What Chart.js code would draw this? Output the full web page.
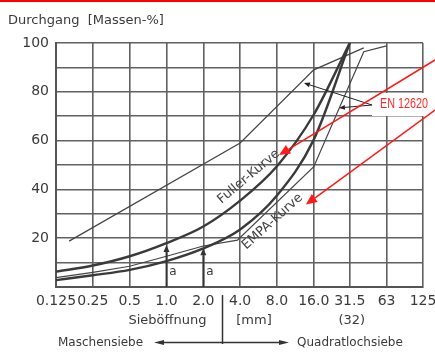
<!DOCTYPE html>
<html><head><meta charset="utf-8">
<script src="https://cdn.jsdelivr.net/npm/chart.js@4.4.1/dist/chart.umd.min.js"></script>
<style>html,body{margin:0;padding:0;background:#fff}#wrap{width:435px;height:352px}</style>
</head><body><div id="wrap"><canvas id="c" width="435" height="352"></canvas></div>
<script>
// ---- data ----
const sieveSizes  = [0.125, 0.25, 0.5, 1, 2, 4, 8, 16, 31.5, 63, 125];
const sieveLabels = ['0.125', '0.25', '0.5', '1.0', '2.0', '4.0', '8.0', '16.0', '31.5', '63', '125'];
const yLabelValues = [20, 40, 60, 80, 100];

const fullerSize = [0.125, 0.25, 0.5, 1, 2, 4, 8, 16, 31.5];
const fullerPass = [6.3, 8.8, 12.6, 18, 24.8, 35.4, 49.5, 70.7, 100];

const empaSize = [0.125, 0.25, 0.5, 1, 2, 4, 8, 16, 31.5];
const empaPass = [2.8, 4.8, 7.0, 10.6, 15.8, 23.6, 37.5, 60.4, 100];

const enUpperSize = [0.16, 4, 16, 41];
const enUpperPass = [18.8, 59, 89, 98];

const enLowerSize = [0.125, 0.25, 0.5, 1, 2, 3.8, 16, 41, 63];
const enLowerPass = [3.8, 6.0, 8.5, 12.6, 16.8, 19.2, 49.3, 96.4, 98.8];

// annotation texts
const titleText = 'Durchgang  [Massen-%]';
const xTitle = 'Sieböffnung';
const unitText = '[mm]';
const note32 = '(32)';
const leftSieve = 'Maschensiebe';
const rightSieve = 'Quadratlochsiebe';
const enLabel = 'EN 12620';
const aMarks = [{size: 1, tip: 17.2}, {size: 2, tip: 15.9}];

const FONT = '"DejaVu Sans", sans-serif';
const ink = '#3a3a3a';
const gridCol = '#616161';

function pts(xs, ys) { return xs.map((v, i) => ({x: v, y: ys[i]})); }

function arrow(ctx, x1, y1, x2, y2, len, half, color, lw) {
  ctx.strokeStyle = color; ctx.fillStyle = color; ctx.lineWidth = lw;
  const a = Math.atan2(y2 - y1, x2 - x1);
  const bx = x2 - len * Math.cos(a), by = y2 - len * Math.sin(a);
  ctx.beginPath(); ctx.moveTo(x1, y1); ctx.lineTo(bx, by); ctx.stroke();
  ctx.beginPath(); ctx.moveTo(x2, y2);
  ctx.lineTo(bx + half * Math.sin(a), by - half * Math.cos(a));
  ctx.lineTo(bx - half * Math.sin(a), by + half * Math.cos(a));
  ctx.closePath(); ctx.fill();
}

const annot = {
  id: 'annot',
  afterDraw(chart) {
    const {ctx, scales: {x, y}} = chart;
    const px = v => x.getPixelForValue(v), py = v => y.getPixelForValue(v);
    ctx.save();
    // top red bar
    ctx.fillStyle = '#ff0000'; ctx.fillRect(0, 0, 435, 2);
    // title
    ctx.fillStyle = ink; ctx.font = '13px ' + FONT; ctx.textBaseline = 'middle'; ctx.textAlign = 'left';
    ctx.fillText(titleText, 8, 21);
    // x tick labels (sieve sizes)
    ctx.font = '14px ' + FONT; ctx.textAlign = 'center';
    sieveSizes.forEach((v, i) => ctx.fillText(sieveLabels[i], px(v), 301));
    // "a" arrows
    aMarks.forEach(m => {
      const X = px(m.size);
      arrow(ctx, X, y.bottom, X, py(m.tip), 7, 3, '#333', 1.8);
      ctx.fillStyle = ink; ctx.font = '12px ' + FONT; ctx.textAlign = 'center';
      ctx.fillText('a', X + 6.5, 272);
    });
    // curve names (rotated)
    ctx.fillStyle = '#444'; ctx.font = '13px ' + FONT; ctx.textAlign = 'center'; ctx.textBaseline = 'middle';
    [[ 'Fuller-Kurve', 4.7, 45.2, -40 ], [ 'EMPA-Kurve', 7.35, 26.8, -42 ]].forEach(t => {
      ctx.save(); ctx.translate(px(t[1]), py(t[2])); ctx.rotate(t[3] * Math.PI / 180);
      ctx.fillText(t[0], 0, 0); ctx.restore();
    });
    // bottom texts
    ctx.fillStyle = ink; ctx.font = '13px ' + FONT; ctx.textAlign = 'center';
    ctx.fillText(xTitle, 167.5, 321);
    ctx.fillText(unitText, 254, 321);
    ctx.fillText(note32, px(31.5) + 2, 321);
    ctx.font = '12px ' + FONT; ctx.textAlign = 'left';
    ctx.fillText(leftSieve, 58, 343);
    ctx.fillText(rightSieve, 297, 343);
    // separator + double arrow
    ctx.strokeStyle = '#333'; ctx.lineWidth = 1.5;
    ctx.beginPath(); ctx.moveTo(222.5, 295); ctx.lineTo(222.5, 344); ctx.stroke();
    arrow(ctx, 222.5, 342.5, 154, 342.5, 10, 2.5, '#333', 1.3);
    arrow(ctx, 222.5, 342.5, 289, 342.5, 10, 2.5, '#333', 1.3);
    // EN 12620 label box
    ctx.fillStyle = '#fff'; ctx.fillRect(372, 93, 63, 23);
    arrow(ctx, 372, 105, px(13.3), py(83.6), 6, 2.5, '#222', 1);
    arrow(ctx, 372, 105, px(25.7), py(73.4), 6, 2.5, '#222', 1);
    ctx.fillStyle = '#ff2a2a'; ctx.font = '15px "Liberation Sans", Arial, sans-serif';
    ctx.textAlign = 'left'; ctx.textBaseline = 'middle';
    const w = ctx.measureText(enLabel).width;
    ctx.save(); ctx.translate(380, 104); ctx.scale(48 / w, 1); ctx.fillText(enLabel, 0, 0); ctx.restore();
    // red arrows
    arrow(ctx, 435, 60, px(8.33), py(54.1), 11, 5, '#ff1a1a', 1.5);
    arrow(ctx, 435, 110, px(13.8), py(33.8), 11, 5, '#ff1a1a', 1.5);
    ctx.restore();
  }
};

const thick = {borderColor: ink, borderWidth: 2.4, pointRadius: 0, cubicInterpolationMode: 'monotone', fill: false};
const thin = {borderColor: '#444', borderWidth: 1.2, pointRadius: 0, tension: 0, fill: false};

new Chart(document.getElementById('c'), {
  type: 'line',
  data: {
    datasets: [
      Object.assign({label: 'Fuller-Kurve', data: pts(fullerSize, fullerPass)}, thick),
      Object.assign({label: 'EMPA-Kurve', data: pts(empaSize, empaPass)}, thick),
      Object.assign({label: 'EN 12620 oben', data: pts(enUpperSize, enUpperPass)}, thin),
      Object.assign({label: 'EN 12620 unten', data: pts(enLowerSize, enLowerPass)}, thin)
    ]
  },
  options: {
    responsive: false, animation: false, devicePixelRatio: 1,
    layout: {padding: {top: 43, right: 12, left: 0, bottom: 0}},
    plugins: {legend: {display: false}, tooltip: {enabled: false}},
    scales: {
      x: {
        type: 'logarithmic', min: 0.125, max: 125,
        afterBuildTicks(axis) { axis.ticks = sieveSizes.map(v => ({value: v})); },
        afterFit(axis) { axis.height = 65; axis.paddingLeft = 0; axis.paddingRight = 0; },
        ticks: {display: false, autoSkip: false, maxRotation: 0, minRotation: 0},
        grid: {color: gridCol, lineWidth: 1.6, drawTicks: false},
        border: {color: '#555', width: 2}
      },
      y: {
        type: 'linear', min: 0, max: 100,
        afterFit(axis) { axis.width = 56; },
        ticks: {
          stepSize: 10,
          callback: v => yLabelValues.includes(v) ? String(v) : '',
          color: ink, font: {family: FONT, size: 14}, padding: 7
        },
        grid: {color: gridCol, lineWidth: 1.6, drawTicks: false},
        border: {color: '#555', width: 2}
      }
    }
  },
  plugins: [annot]
});
</script></body></html>
